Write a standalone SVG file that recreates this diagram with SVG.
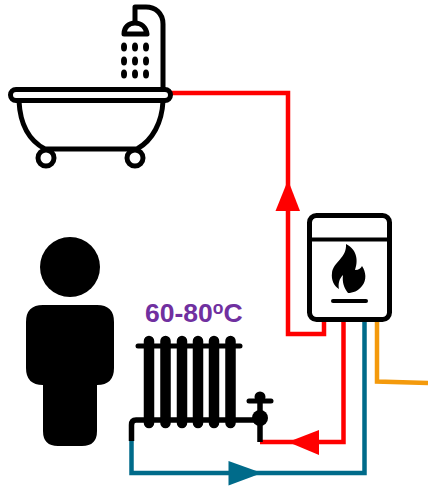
<svg xmlns="http://www.w3.org/2000/svg" width="428" height="486" viewBox="0 0 428 486">
<style>
.k{fill:none;stroke:#000;stroke-width:5;stroke-linecap:round;stroke-linejoin:round}
.p{fill:none;stroke-width:4.5;stroke-linejoin:miter}
.r{stroke:#ff0000}.b{stroke:#006b8a}.o{stroke:#f49a0c}
.col{fill:none;stroke:#000;stroke-width:10.500;stroke-linecap:round}
</style>
<rect width="428" height="486" fill="#fff"/>
<g id="connectors">
<path class="p r" d="M171 93H288V334H324V321"/>
<polygon points="288,180 275.500,211 300,211" fill="#ff0000"/>
<path class="p r" d="M343.500 321V442H260"/>
<polygon points="288,442 319,430 319,455" fill="#ff0000"/>
<path class="p b" d="M364.500 321V473H131.500V440"/>
<polygon points="262,473 228.500,461 228.500,485.500" fill="#006b8a"/>
<path class="p o" d="M377 321V381.500L428 383"/>
</g>
<g id="bath">
<rect class="k" x="10.500" y="89.500" width="160" height="11" rx="5.500"/>
<path class="k" d="M19 101C20 122 28 140 45 149H137C153 140 162 122 163 101"/>
<circle class="k" cx="46" cy="158" r="8"/>
<circle class="k" cx="135" cy="158" r="8"/>
<path class="k" d="M163 88V24C163 13 155 7 146 7H135V22"/>
<path class="k" d="M124 34C124 27 129 23 135 23C141 23 146 27 147 34Z"/>
<g fill="#000">
<ellipse cx="124" cy="47" rx="3" ry="4.500"/><ellipse cx="135" cy="47" rx="3" ry="4.500"/><ellipse cx="146" cy="47" rx="3" ry="4.500"/>
<ellipse cx="124" cy="61" rx="3" ry="4.500"/><ellipse cx="135" cy="61" rx="3" ry="4.500"/><ellipse cx="146" cy="61" rx="3" ry="4.500"/>
<ellipse cx="124" cy="74" rx="3" ry="4.500"/><ellipse cx="135" cy="74" rx="3" ry="4.500"/><ellipse cx="146" cy="74" rx="3" ry="4.500"/>
</g>
</g>
<g id="heater">
<rect x="309.500" y="215.500" width="80" height="104" rx="7" fill="#fff" stroke="#000" stroke-width="5"/>
<path d="M310 239.500H389" stroke="#000" stroke-width="4" fill="none"/>
<path fill="#000" d="M346 244C358 250 358 262 355 270C359 270 361 268 362 266C366 272 367 280 362 286C358 291 353 293 348 293C344 288 342 282 343 275C339 279 338 284 339 289C334 286 331 280 332 273C333 262 347 258 346 244Z"/>
<path d="M333 301H366" fill="none" stroke="#000" stroke-width="4" stroke-linecap="round"/>
</g>
<g id="radiator">
<path class="col" d="M149 341V423M165.500 341V423M182 341V423M198 341V423M214 341V423M230.500 341V423"/>
<path d="M138 346H240" stroke="#000" stroke-width="5" stroke-linecap="round" fill="none"/>
<path d="M131.500 441V425Q131.500 420 136 420H260" stroke="#000" stroke-width="5.500" fill="none"/>
<path d="M260 398V442" stroke="#000" stroke-width="5.500" fill="none"/>
<path d="M249 401H271" stroke="#000" stroke-width="5" stroke-linecap="round" fill="none"/>
<circle cx="260" cy="397" r="5.500" fill="#000"/>
<circle cx="260" cy="418" r="8" fill="#000"/>
</g>
<g id="label">
<text x="145" y="322" font-family="'Liberation Sans',Arial,sans-serif" font-weight="700" font-size="26.500" fill="#7030a0">60-80<tspan font-size="17.500" dy="-8">o</tspan><tspan dy="8">C</tspan></text>
</g>
<g id="person" fill="#000">
<circle cx="70" cy="267" r="30"/>
<path d="M43 305H97Q114 305 114 322V368Q114 385 97 385V431Q97 446 82 446H58Q43 446 43 431V385Q26 385 26 368V322Q26 305 43 305Z"/>
</g>
</svg>
